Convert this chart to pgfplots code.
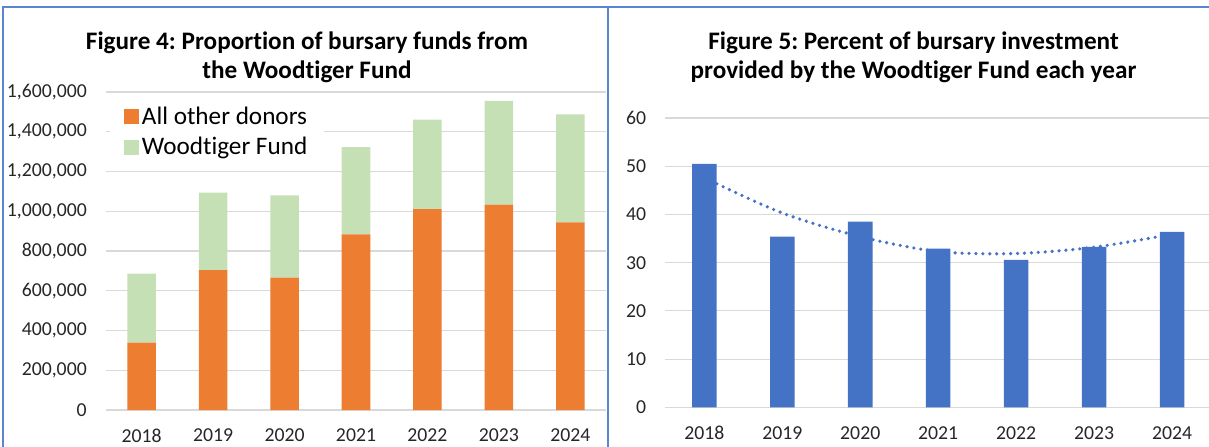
\documentclass[border=0pt]{standalone}
\usepackage{fontspec}
\setmainfont{Carlito}[Ligatures=NoCommon]
\usepackage{pgfplots}
\pgfplotsset{compat=1.18}
\definecolor{xlorange}{HTML}{ED7D31}
\definecolor{xlgreen}{HTML}{C5E0B4}
\definecolor{xlblue}{HTML}{4472C4}
\definecolor{xlgrid}{HTML}{D9D9D9}
\definecolor{xlframe}{HTML}{5B84D1}
\pgfplotsset{
  xlchart/.style={
    scale only axis,
    axis line style={draw=none},
    major tick length=0pt,
    ymajorgrids, grid style={color=xlgrid, line width=0.9pt},
    xmin=-0.5, xmax=6.5, ymin=0,
    xtick={0,...,6},
    xticklabels={2018,2019,2020,2021,2022,2023,2024},
    tick label style={font=\fontsize{14.8}{17}\selectfont, text=black!85},
    xticklabel style={inner sep=0pt, anchor=center, yshift=-19pt},
    yticklabel style={inner sep=0pt, anchor=east, xshift=-14.25pt},
    /pgf/number format/assume math mode=true,
    clip=false,
  },
  sqlegend/.style={legend image code/.code={%
    \fill[##1] (0pt,-5.6pt) rectangle (11.25pt,5.6pt);}},
}
\begin{document}
\frenchspacing
\begin{tikzpicture}[x=0.75pt,y=0.75pt]
\useasboundingbox (0,0) rectangle (1209,446);
\begin{scope}
\clip (0,0) rectangle (1209,446);

% Figure 4: stacked totals
\begin{axis}[xlchart,
  at={(79.5pt,27pt)}, anchor=south west,
  width=375pt, height=238.5pt,
  ybar stacked, bar width=21.4pt,
  ymax=1600000, ytick distance=200000,
  scaled y ticks=false,
  yticklabel style={/pgf/number format/.cd, fixed, 1000 sep={,}},
  legend style={at={(rel axis cs:0.008,0.974)}, anchor=north west,
    draw=none, fill=white, inner xsep=10pt, inner ysep=3pt,
    font=\fontsize{18.9}{22}\selectfont, row sep=4pt,
    nodes={inner xsep=2.5pt}},
  legend cell align=left,
]
\addplot[fill=xlorange, draw=none, sqlegend] coordinates {
  (0,339000)(1,704000)(2,666000)(3,884000)(4,1011000)(5,1033000)(6,944000)};
\addlegendentry{All other donors}
\addplot[fill=xlgreen, draw=none, sqlegend] coordinates {
  (0,347000)(1,390000)(2,414000)(3,439000)(4,450000)(5,522000)(6,544000)};
\addlegendentry{Woodtiger Fund}
\end{axis}

% Figure 5: percentage with trend
\begin{axis}[xlchart,
  at={(499pt,29pt)}, anchor=south west,
  width=409.3pt, height=217pt,
  ymax=60, ytick distance=10,
]
\addplot[ybar, bar width=18.4pt, fill=xlblue, draw=none] coordinates {
  (0,50.5)(1,35.4)(2,38.5)(3,32.9)(4,30.6)(5,33.3)(6,36.4)};
\addplot[color=xlblue, line width=2.7pt, line cap=round,
  dash pattern=on 0pt off 5.2pt, smooth] coordinates {
  (0,47.6)(1,40.3)(2,35.4)(3,32.3)(4,31.9)(5,33.2)(6,35.9)};
\end{axis}

\node[font=\bfseries\fontsize{18.9}{21.75}\selectfont, align=center] at (307,388.5)
  {Figure 4: Proportion of bursary funds from\\the Woodtiger Fund};
\node[font=\bfseries\fontsize{18.9}{21.75}\selectfont, align=center] at (913.5,388.5)
  {Figure 5: Percent of bursary investment\\provided by the Woodtiger Fund each year};

\draw[xlframe, line width=1.6pt] (3,-5) -- (3,439) -- (1215,439);
\draw[xlframe, line width=1.6pt] (608,-5) -- (608,439);
\end{scope}
\end{tikzpicture}
\end{document}
